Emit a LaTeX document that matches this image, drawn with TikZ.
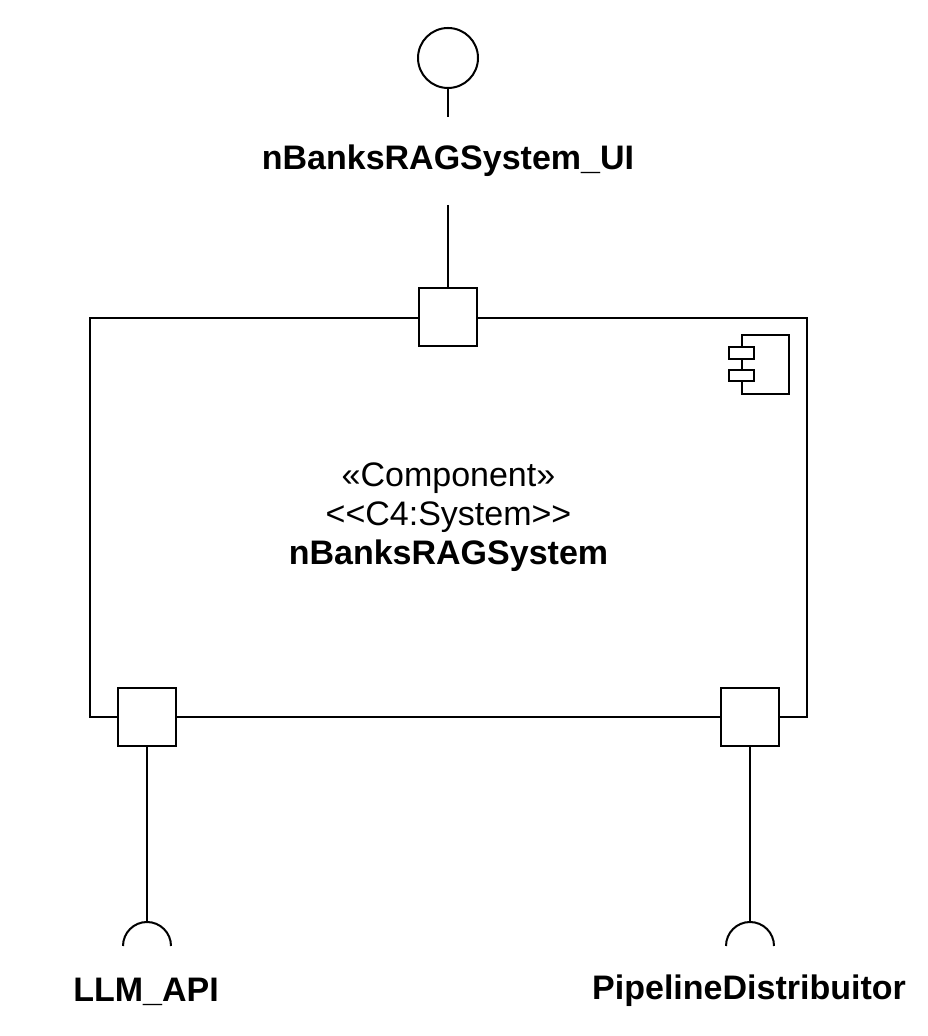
\documentclass[tikz,border=0pt]{standalone}
\usepackage{fontspec}
\setmainfont{Liberation Sans}
\usetikzlibrary{positioning}
\begin{document}
\begin{tikzpicture}[x=1pt, y=1pt, line width=2pt, line join=miter,
	font=\fontsize{34}{39}\selectfont,
	port/.style={draw, fill=white, minimum size=58pt, inner sep=0pt},
	lbl/.style={font=\fontsize{34}{39}\selectfont\bfseries, inner sep=0pt}]
			\useasboundingbox (0,0) rectangle (928,1036);
			% component frame
			\node[draw, minimum width=717pt, minimum height=399pt, inner sep=0pt](sys) at (448.5,518.5){};
			\node[align=center](sysname) at (sys.center){«Component»\\<{}<C4:System>{}>\\\textbf{nBanksRAGSystem}};
			% component icon
			\begin{scope}[shift={(sys.north east)}]
				\draw (-66,-18) rectangle (-19,-77);
				\draw[fill=white] (-79,-30) rectangle (-54,-42);
				\draw[fill=white] (-79,-53) rectangle (-54,-64);
			\end{scope}
			% ports
			\node[port](portUI) at (448,719){};
			\node[port](portLLM) at (147,319){};
			\node[port](portPD) at (750,319){};
			% provided interface
			\node[draw, circle, minimum size=60pt, inner sep=0pt](ui) at (448,978){};
			\node[lbl, minimum height=86pt](uilbl) at (448,875){nBanksRAGSystem\_UI};
			\draw (ui)--(uilbl)--(portUI);
			% required interfaces
			\coordinate (llmSock) at (147,114);
			\coordinate (pdSock) at (750,114);
			\draw (portLLM)--(llmSock);
			\draw (portPD)--(pdSock);
			\foreach \s in {llmSock,pdSock}\draw (\s) ++(-24,-24) arc[start angle=180, end angle=0, radius=24];
			\node[lbl, anchor=base](llmlbl) at (146,34){LLM\_API};
			\node[lbl, anchor=base](pdlbl) at (749,36){PipelineDistribuitor};
			
	\end{tikzpicture}
\end{document}
